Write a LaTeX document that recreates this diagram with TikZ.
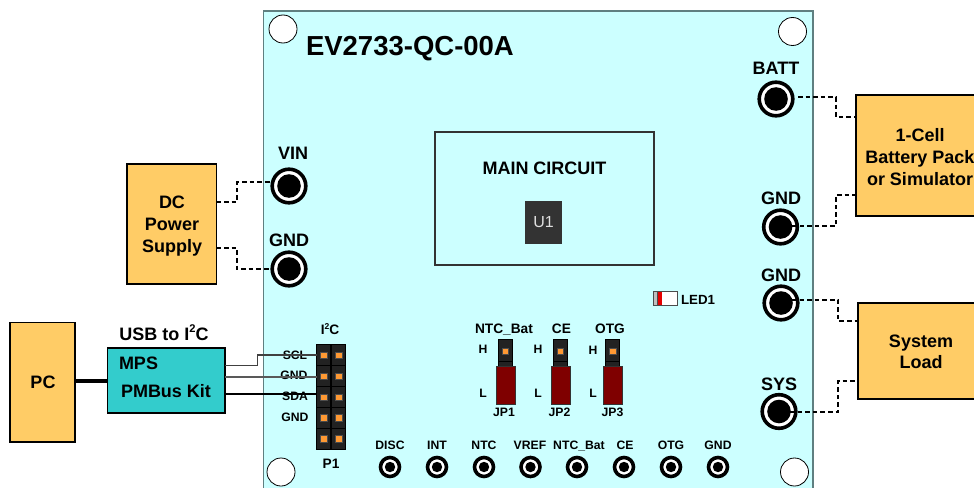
\documentclass[tikz,border=0pt]{standalone}
\usepackage{fontspec}
\setmainfont{Liberation Sans}
\definecolor{boardc}{HTML}{CCFFFF}
\definecolor{boardl}{HTML}{5F7F80}
\definecolor{boxc}{HTML}{FFCC66}
\definecolor{kitc}{HTML}{33CCCC}
\definecolor{hdr}{HTML}{222222}
\definecolor{pinc}{HTML}{FF9933}
\definecolor{jmp}{HTML}{7F0000}
\tikzset{
  x=1pt,y=-1pt,
  txt/.style={inner sep=0,outer sep=0,anchor=base},
  lab/.style={txt,font=\bfseries\fontsize{18}{22}\selectfont,yshift=-6.4pt},
  mid/.style={txt,font=\bfseries\fontsize{13.7}{16}\selectfont,yshift=-4.9pt},
  sml/.style={txt,font=\bfseries\fontsize{12.2}{14}\selectfont,yshift=-4.4pt},
  box/.style={draw=black,line width=1.5,fill=boxc,inner sep=0,outer sep=0},
  boxt/.style={inner sep=0,outer sep=0,align=center,font=\bfseries\fontsize{18}{22}\selectfont},
  hole/.style={circle,draw=black,line width=.8,fill=white,minimum size=28,inner sep=0,outer sep=0},
  bigjack/.style={circle,draw=black,line width=3.6,fill=white,minimum size=33.6,inner sep=0,outer sep=0,
     path picture={\fill[black] (path picture bounding box.center) circle (11.8);}},
  smalljack/.style={circle,draw=black,line width=3.6,fill=white,minimum size=19,inner sep=0,outer sep=0,
     path picture={\fill[black] (path picture bounding box.center) circle (5.2);}},
  conn/.style={line width=2.6,dash pattern=on 4.6pt off 3pt,draw=black},
  hcell/.style={fill=hdr,draw=black,line width=.7,inner sep=0,outer sep=0,minimum width=14,minimum height=20.8},
  pin/.style={fill=pinc,draw=black!70,line width=.4,inner sep=0,outer sep=0,minimum size=6.5},
  redj/.style={fill=jmp,draw=black!80,line width=.8,inner sep=0,outer sep=0,minimum width=19,minimum height=38},
  wire/.style={line width=1.1,draw=black},
}
\newcommand{\suptwo}{\raisebox{.42em}{\fontsize{.62em}{1em}\selectfont 2}}
\begin{document}
\begin{tikzpicture}
\useasboundingbox (0,0) rectangle (974,487);
\clip (0,0) rectangle (974,487);
% board
\node[fill=boardc,draw=boardl,line width=1.5,inner sep=0,outer sep=0,minimum width=549.5,minimum height=500] (board) at (538.25,261) {};
\node[hole] (h1) at (283,29) {};
\node[hole] (h2) at (792.5,31.5) {};
\node[hole] (h3) at (281,472) {};
\node[hole] (h4) at (794.5,472) {};
\node[txt,font=\bfseries\fontsize{27.5}{30}\selectfont,anchor=base west,yshift=-9.6pt] (title) at (306,46) {EV2733-QC-00A};
% main circuit
\node[draw=black!80,line width=1.3,inner sep=0,outer sep=0,minimum width=219,minimum height=133] (main) at (544.5,198.5) {};
\node[lab] (maint) at (544.5,168) {MAIN CIRCUIT};
\node[fill=black!80,inner sep=0,outer sep=0,minimum width=37,minimum height=43,text=black!12,font=\fontsize{16}{18}\selectfont] (u1) at (543.5,222.5) {U1};
% boxes
\node[box,minimum width=89.5,minimum height=120] (dc) at (171.75,224) {};
\node[boxt] (dct) at (172,226) {DC\\Power\\Supply};
\node[box,minimum width=128,minimum height=121] (batt) at (920,155.5) {};
\node[boxt] (battt) at (920,157.5) {1-Cell\\Battery Pack\\or Simulator};
\node[box,minimum width=126,minimum height=96] (load) at (921,351) {};
\node[boxt,font=\bfseries\fontsize{18}{21}\selectfont] (loadt) at (921,351.5) {System\\Load};
\node[box,minimum width=65,minimum height=119.5] (pc) at (42.5,382.25) {};
\node[boxt] (pct) at (43,382) {PC};
\node[box,fill=kitc,minimum width=117.5,minimum height=65] (kit) at (166.25,380.5) {};
\node[lab,anchor=base west] (mps) at (119,363) {MPS};
\node[lab,anchor=base west] (pmb) at (121,391) {PMBus Kit};
\node[lab] (usb) at (164,334) {USB to I\suptwo C};
% big jacks
\node[bigjack] (vin) at (289,186) {};
\node[bigjack] (gl) at (289,269) {};
\node[bigjack] (bt) at (776,99) {};
\node[bigjack] (g1) at (780.5,227) {};
\node[bigjack] (g2) at (781,303) {};
\node[bigjack] (sy) at (779,411.5) {};
\node[lab] (vint) at (293,153) {VIN};
\node[lab] (glt) at (289,240) {GND};
\node[lab] (btt) at (776,68) {BATT};
\node[lab] (g1t) at (781,198) {GND};
\node[lab] (g2t) at (781,275) {GND};
\node[lab] (syt) at (779,384) {SYS};
% connector ends
\coordinate (dca) at (dc.east |- 0,202);
\coordinate (dcb) at (dc.east |- 0,248);
\coordinate (vinp) at (vin.west |- 0,182);
\coordinate (glp) at (gl.west);
\coordinate (btp) at (798,97);
\coordinate (g1p) at (792,226);
\coordinate (g2p) at (792,300);
\coordinate (syp) at (790,412);
\coordinate (bta) at (batt.west |- 0,117);
\coordinate (btb) at (batt.west |- 0,195);
\coordinate (loa) at (load.west |- 0,321);
\coordinate (lob) at (load.west |- 0,381);
\draw[conn] (dca) -- (237,202) -- (237,182) -- (vinp);
\draw[conn] (dcb) -- (237,248) -- (237,269) -- (glp);
\draw[conn] (btp) -- (836,97) -- (836,117) -- (bta);
\draw[conn] (g1p) -- (836,226) -- (836,195) -- (btb);
\draw[conn] (g2p) -- (838,300) -- (838,321) -- (loa);
\draw[conn] (syp) -- (838,412) -- (838,381) -- (lob);
% PC to kit
\draw[line width=4,draw=black] (pc.east |- 0,381) -- (kit.west |- 0,381);
% header P1
\foreach \r/\yy in {1/355,2/376,3/397,4/417.5,5/438.5}{
  \node[hcell] (ca\r) at (323.8,\yy) {};
  \node[hcell] (cb\r) at (338.4,\yy) {};
  \node[pin] (pa\r) at (323.5,\yy) {};
  \node[pin] (pb\r) at (338.5,\yy) {};
}
\node[mid] (i2c) at (330,330) {I\suptwo C};
\node[mid] (p1) at (331,464) {P1};
\node[sml] (scl) at (295,355) {SCL};
\node[sml] (gnda) at (294,375) {GND};
\node[sml] (sda) at (295,396) {SDA};
\node[sml] (gndb) at (295,417) {GND};
\coordinate (ka) at (kit.east |- 0,365.5);
\coordinate (kb) at (kit.east |- 0,377);
\coordinate (kc) at (kit.east |- 0,394);
\draw[wire,draw=black!75] (ka) -- (257.5,365.5) -- (257.5,355) -- (ca1.west);
\draw[wire,draw=black!65] (kb) -- (ca2.west |- kb);
\draw[wire] (kc) -- (ca3.west |- kc);
% jumpers
\foreach \n/\hx/\rx/\py/\tx/\lx/\hy/\ly/\jx in {1/505/505.5/351/504/483/349/393/504,2/560/560.5/351/561.5/538/349/393/559.5,3/612.5/612.5/351/610/593/350/393/612.5}{
  \node[fill=hdr,draw=black,line width=.6,inner sep=0,outer sep=0,minimum width=14,minimum height=27] (jh\n) at (\hx,353) {};
  \node[pin] (jp\n) at (\hx,\py) {};
  \node[redj] (jr\n) at (\rx,385) {};
  \node[sml] (jj\n) at (\jx,412.5) {JP\n};
  \node[sml] (jhl\n) at (\lx,\hy) {H};
  \node[sml] (jll\n) at (\lx,\ly) {L};
  \draw[black,line width=.6] (jh\n.west |- 0,361) -- (jh\n.east |- 0,361);
}
\node[mid] (jt1) at (504,329) {NTC\_Bat};
\node[mid] (jt2) at (561.5,329) {CE};
\node[mid] (jt3) at (610,329) {OTG};
% LED
\node[fill=white,draw=black!70,line width=1,inner sep=0,outer sep=0,minimum width=24,minimum height=14] (led) at (665,298) {};
\fill[black!25] (653.5,291.5) rectangle (657,304.5);
\fill[red!90!black] (657,291.5) rectangle (662,304.5);
\draw[black!70,line width=.8] (657,291) -- (657,305);
\node[sml,anchor=base west,font=\bfseries\fontsize{13.3}{16}\selectfont] (ledt) at (681,300) {LED1};
% small jacks
\foreach \i/\xx/\tt/\tx in {1/390/DISC/390,2/437/INT/437,3/484/NTC/484,4/530.5/VREF/530,5/577/NTC\_Bat/579,6/624/CE/625,7/671/OTG/671,8/718/GND/718}{
  \node[smalljack] (s\i) at (\xx,467) {};
  \node[sml] (st\i) at (\tx,445) {\tt};
}
\end{tikzpicture}
\end{document}
